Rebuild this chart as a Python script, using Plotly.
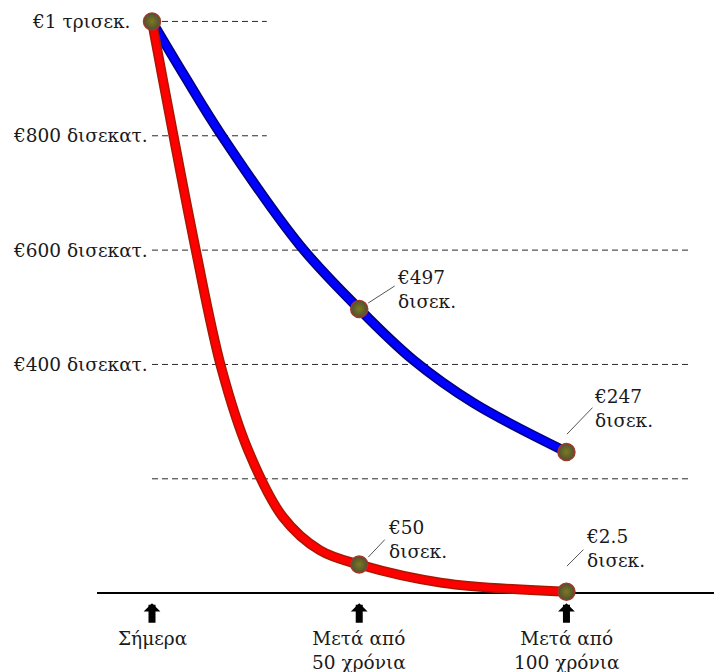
import plotly.graph_objects as go

# ---------------- data ----------------
mark_years = [0, 50, 100]
mark_labels = ["Σήμερα", "Μετά από<br>50 χρόνια", "Μετά από<br>100 χρόνια"]

# low discount rate (blue) curve
low_years = [0, 8, 16.4, 35.5, 50, 63, 77.5, 100]
low_values = [1000, 903, 805, 610, 497, 408, 333, 247]

# high discount rate (red) curve
high_years = [0, 10.4, 16.8, 23.2, 31.6, 40.5, 50, 70, 100]
high_values = [1000, 606, 392, 250, 133, 75, 50, 18, 2.5]

point_years = [0, 50, 100, 50, 100]
point_values = [1000, 497, 247, 50, 2.5]
point_labels = ["", "€497<br>δισεκ.", "€247<br>δισεκ.", "€50<br>δισεκ.", "€2.5<br>δισεκ."]

grid_values = [1000, 800, 600, 400, 200]
grid_labels = ["€1 τρισεκ.", "€800 δισεκατ.", "€600 δισεκατ.", "€400 δισεκατ.", ""]

# ---------------- styling ----------------
FONT = "DejaVu Serif"
FS = 18.5
TXT = "#1a1a1a"

fig = go.Figure()

spl = dict(shape="spline", smoothing=1)
# blue curve (dark edge + bright core)
fig.add_trace(go.Scatter(x=low_years, y=low_values, mode="lines",
                         line=dict(color="#00007a", width=10, **spl),
                         hoverinfo="skip", showlegend=False))
fig.add_trace(go.Scatter(x=low_years, y=low_values, mode="lines",
                         line=dict(color="#0000ff", width=7, **spl),
                         showlegend=False))
# red curve
fig.add_trace(go.Scatter(x=high_years, y=high_values, mode="lines",
                         line=dict(color="#a81800", width=10, **spl),
                         hoverinfo="skip", showlegend=False))
fig.add_trace(go.Scatter(x=high_years, y=high_values, mode="lines",
                         line=dict(color="#ff0000", width=7, **spl),
                         showlegend=False))
# dots
fig.add_trace(go.Scatter(x=point_years, y=point_values, mode="markers",
                         marker=dict(size=17, color="#4f4f36",
                                     gradient=dict(type="radial", color="#7d7a1c"),
                                     line=dict(color="#a03a2a", width=1.5)),
                         cliponaxis=False, showlegend=False))

shapes = []
for v in grid_values:
    x1 = 27.7 if v >= 800 else 129.8
    shapes.append(dict(type="line", xref="x", yref="y", x0=0, x1=x1, y0=v, y1=v,
                       line=dict(color="#2a2a2a", width=1, dash="6px,4px"), layer="below"))

annotations = []
# y labels
for v, lab in zip(grid_values, grid_labels):
    if not lab:
        continue
    annotations.append(dict(x=-0.6, y=v, xref="x", yref="y", text=lab, showarrow=False,
                            xanchor="right", yanchor="middle",
                            xshift=-18 if v == 1000 else 0,
                            font=dict(family=FONT, size=FS, color=TXT)))

# point labels and leader lines
label_off = {1: (36, 19.5), 2: (25.5, 43.8), 3: (27, 25), 4: (17.5, 43.6)}
leader = {1: (9, 6, 28, -18), 2: (0.5, 17.8, 27, -28), 3: (9, 7.4, 18, -19), 4: (0.5, 25.6, 18, -18)}
for i, lab in enumerate(point_labels):
    if not lab:
        continue
    xs, ys = label_off[i]
    annotations.append(dict(x=point_years[i], y=point_values[i], xref="x", yref="y",
                            text=lab, showarrow=False, align="left",
                            xanchor="left", yanchor="middle", xshift=xs, yshift=ys,
                            font=dict(family=FONT, size=FS, color=TXT)))
    sx, sy, ax, ay = leader[i]
    annotations.append(dict(x=point_years[i], y=point_values[i], xref="x", yref="y",
                            text="", showarrow=True, arrowhead=0, arrowwidth=1,
                            arrowcolor="#555555", ax=ax, ay=ay, standoff=0,
                            xshift=sx, yshift=sy))

# x labels and arrows
for yr, lab in zip(mark_years, mark_labels):
    annotations.append(dict(x=yr, y=0, xref="x", yref="y", text=lab, showarrow=False,
                            xanchor="center", yanchor="top", yshift=-33, align="center",
                            font=dict(family=FONT, size=FS, color=TXT)))
    annotations.append(dict(x=yr, y=0, xref="x", yref="y", text="", showarrow=True,
                            arrowhead=1, arrowwidth=7, arrowsize=0.4, arrowcolor="black",
                            ax=0, ay=21, standoff=0, yshift=-10))

fig.update_layout(
    width=714, height=672,
    margin=dict(l=97, r=0, t=10, b=72),
    paper_bgcolor="white", plot_bgcolor="white",
    showlegend=False,
    xaxis=dict(range=[-13.27, 135.6], showgrid=False, zeroline=False,
               showticklabels=False, showline=False, fixedrange=True),
    yaxis=dict(range=[-12, 1020], showgrid=False, zeroline=True,
               zerolinecolor="black", zerolinewidth=2,
               showticklabels=False, showline=False, fixedrange=True),
    shapes=shapes,
    annotations=annotations,
)

fig.write_html("out.html", config={"displayModeBar": False},
               post_script="document.body.style.margin='0';document.body.style.overflow='hidden';")
